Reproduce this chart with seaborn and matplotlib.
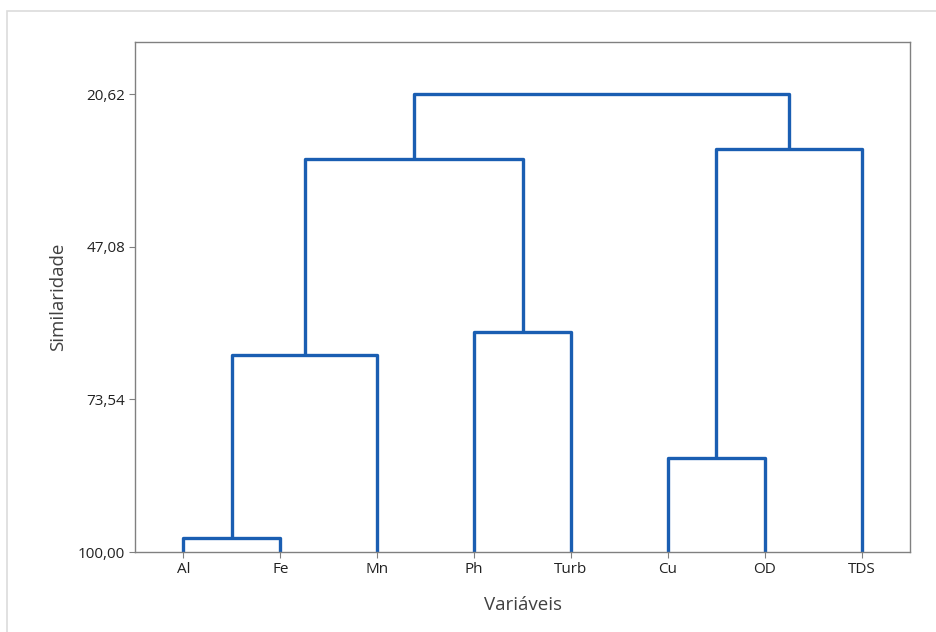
import pandas as pd
import numpy as np
import matplotlib.pyplot as plt
import seaborn as sns
from matplotlib.patches import Rectangle

sns.set_theme(style="white")
plt.rcParams['font.family'] = ['Open Sans', 'DejaVu Sans']

# Data ###################################################################
variables = ['Al', 'Fe', 'Mn', 'Ph', 'Turb', 'Cu', 'OD', 'TDS']
# merges: (left member, right member, similarity level)
merge_left = ['Al', 'AlFe', 'Ph', 'Cu', 'AlFeMn', 'CuOD', 'A']
merge_right = ['Fe', 'Mn', 'Turb', 'OD', 'PhTurb', 'TDS', 'B']
merge_name = ['AlFe', 'AlFeMn', 'PhTurb', 'CuOD', 'A', 'B', 'ALL']
merge_sim = [97.55, 65.90, 61.80, 83.70, 31.85, 30.10, 20.62]
y_ticks = [20.62, 47.08, 73.54, 100.00]

# Build segments ###########################################################
pos = {v: i + 1 for i, v in enumerate(variables)}
height = {v: 100.0 for v in variables}
rows = []
for k, (a, b, name, s) in enumerate(zip(merge_left, merge_right, merge_name, merge_sim)):
    xs = [pos[a], pos[a], pos[b], pos[b]]
    ys = [height[a], s, s, height[b]]
    for order, (x, y) in enumerate(zip(xs, ys)):
        rows.append({'link': k, 'order': order, 'x': x, 'y': y})
    pos[name] = (pos[a] + pos[b]) / 2
    height[name] = s
seg = pd.DataFrame(rows)

# Plot #####################################################################
fig = plt.figure(figsize=(9.37, 6.32), dpi=100)
ax = fig.add_axes([135 / 937, 80 / 632, 775 / 937, 510 / 632])
fig.patches.append(Rectangle((7 / 937, -0.1), 1.1, (632 - 11) / 632 + 0.1,
                             transform=fig.transFigure, fill=False,
                             edgecolor='#dcdcdc', linewidth=1.2, zorder=0))

sns.lineplot(data=seg, x='x', y='y', units='link', estimator=None, sort=False,
             color='#1a5eb2', linewidth=2.4, ax=ax, legend=False)
for line in ax.lines:
    line.set_solid_joinstyle('round')
    line.set_solid_capstyle('butt')

ax.set_xlim(0.5, 8.5)
ax.set_ylim(100, 11.6)
ax.set_xticks(range(1, 9))
ax.set_xticklabels(variables)
ax.set_yticks(y_ticks)
ax.set_yticklabels([f'{t:.2f}'.replace('.', ',') for t in y_ticks])
ax.tick_params(axis='both', which='both', direction='out', length=4, width=0.8,
               color='#808080', labelsize=11, labelcolor='#222222', pad=3,
               bottom=True, left=True)
for sp in ax.spines.values():
    sp.set_color('#808080')
    sp.set_linewidth(1.0)
ax.set_xlabel('Variáveis', fontsize=13.5, color='#404040', labelpad=14)
ax.set_ylabel('Similaridade', fontsize=13.5, color='#404040', labelpad=8)

fig.savefig('out.png', dpi=100)
